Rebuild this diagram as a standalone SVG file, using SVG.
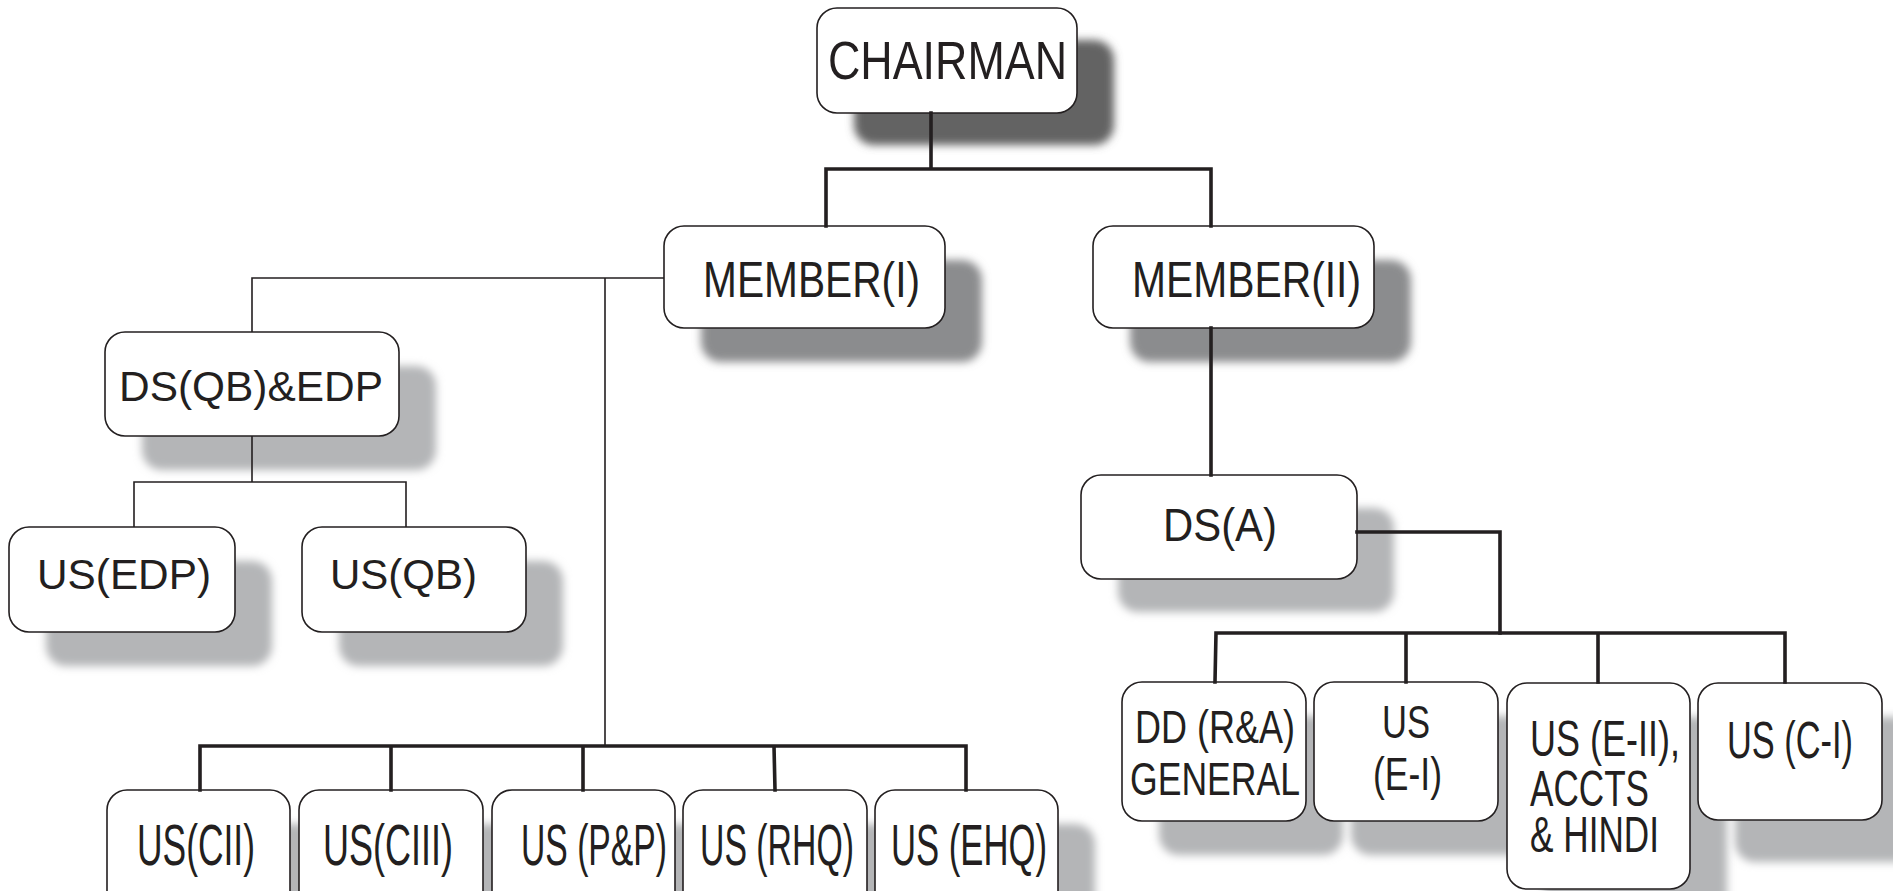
<svg xmlns="http://www.w3.org/2000/svg" width="1893" height="891" viewBox="0 0 1893 891">
<defs>
<filter id="blur" x="-20%" y="-20%" width="140%" height="140%"><feGaussianBlur stdDeviation="4"/></filter>
<style>
.box{fill:#fff;stroke:#231f20;stroke-width:1.6}
.sh{fill:#b4b5b7;filter:url(#blur)}
.sh2{fill:#8b8c8e;filter:url(#blur)}
.sh3{fill:#636363;filter:url(#blur)}
.t{font-family:"Liberation Sans",Arial,sans-serif;fill:#231f20;text-anchor:middle}
.ts{font-family:"Liberation Sans",Arial,sans-serif;fill:#231f20;text-anchor:start}
.thick{stroke:#231f20;stroke-width:3.6;fill:none;stroke-linecap:square}
.thin{stroke:#231f20;stroke-width:1.6;fill:none}
</style>
</defs>
<rect width="1893" height="891" fill="#fff"/>

<g id="chairman">
<rect class="sh3" x="854" y="40" width="260" height="105" rx="20"/>
<rect class="box" x="817" y="8" width="260" height="105" rx="20"/>
<text class="t" x="947.5" y="79" font-size="54" textLength="239" lengthAdjust="spacingAndGlyphs">CHAIRMAN</text>
</g>
<g id="member1">
<rect class="sh2" x="701" y="260" width="281" height="102" rx="20"/>
<rect class="box" x="664" y="226" width="281" height="102" rx="20"/>
<text class="t" x="811.5" y="297" font-size="50" textLength="217" lengthAdjust="spacingAndGlyphs">MEMBER(I)</text>
</g>
<g id="member2">
<rect class="sh2" x="1130" y="260" width="281" height="102" rx="20"/>
<rect class="box" x="1093" y="226" width="281" height="102" rx="20"/>
<text class="t" x="1246.5" y="297" font-size="50" textLength="229" lengthAdjust="spacingAndGlyphs">MEMBER(II)</text>
</g>
<g id="dsqb">
<rect class="sh" x="142" y="366" width="294" height="104" rx="20"/>
<rect class="box" x="105" y="332" width="294" height="104" rx="20"/>
<text class="t" x="251" y="401" font-size="42" textLength="264" lengthAdjust="spacingAndGlyphs">DS(QB)&amp;EDP</text>
</g>
<g id="usedp">
<rect class="sh" x="46" y="561" width="226" height="105" rx="20"/>
<rect class="box" x="9" y="527" width="226" height="105" rx="20"/>
<text class="t" x="124" y="589" font-size="42" textLength="174" lengthAdjust="spacingAndGlyphs">US(EDP)</text>
</g>
<g id="usqb">
<rect class="sh" x="339" y="561" width="224" height="105" rx="20"/>
<rect class="box" x="302" y="527" width="224" height="105" rx="20"/>
<text class="t" x="403.5" y="589" font-size="42" textLength="147" lengthAdjust="spacingAndGlyphs">US(QB)</text>
</g>
<g id="uscii">
<rect class="sh" x="144" y="824" width="183" height="140" rx="20"/>
<rect class="box" x="107" y="790" width="183" height="140" rx="20"/>
<text class="t" x="196" y="865" font-size="57" textLength="118" lengthAdjust="spacingAndGlyphs">US(CII)</text>
</g>
<g id="usciii">
<rect class="sh" x="336" y="824" width="184" height="140" rx="20"/>
<rect class="box" x="299" y="790" width="184" height="140" rx="20"/>
<text class="t" x="388" y="865" font-size="57" textLength="130" lengthAdjust="spacingAndGlyphs">US(CIII)</text>
</g>
<g id="uspp">
<rect class="sh" x="529" y="824" width="183" height="140" rx="20"/>
<rect class="box" x="492" y="790" width="183" height="140" rx="20"/>
<text class="t" x="594" y="865" font-size="57" textLength="146" lengthAdjust="spacingAndGlyphs">US (P&amp;P)</text>
</g>
<g id="usrhq">
<rect class="sh" x="720" y="824" width="184" height="140" rx="20"/>
<rect class="box" x="683" y="790" width="184" height="140" rx="20"/>
<text class="t" x="777" y="865" font-size="57" textLength="154" lengthAdjust="spacingAndGlyphs">US (RHQ)</text>
</g>
<g id="usehq">
<rect class="sh" x="912" y="824" width="183" height="140" rx="20"/>
<rect class="box" x="875" y="790" width="183" height="140" rx="20"/>
<text class="t" x="969" y="865" font-size="57" textLength="156" lengthAdjust="spacingAndGlyphs">US (EHQ)</text>
</g>
<g id="dsa">
<rect class="sh" x="1118" y="508" width="276" height="104" rx="20"/>
<rect class="box" x="1081" y="475" width="276" height="104" rx="20"/>
<text class="t" x="1220" y="541" font-size="46" textLength="114" lengthAdjust="spacingAndGlyphs">DS(A)</text>
</g>
<g id="ddra">
<rect class="sh" x="1159" y="716" width="184" height="139" rx="20"/>
<rect class="box" x="1122" y="682" width="184" height="139" rx="20"/>
<text class="t" x="1215" y="743" font-size="47" textLength="160" lengthAdjust="spacingAndGlyphs">DD (R&amp;A)</text>
<text class="t" x="1215" y="795" font-size="47" textLength="170" lengthAdjust="spacingAndGlyphs">GENERAL</text>
</g>
<g id="usei">
<rect class="sh" x="1351" y="716" width="184" height="139" rx="20"/>
<rect class="box" x="1314" y="682" width="184" height="139" rx="20"/>
<text class="t" x="1406" y="738" font-size="47" textLength="48" lengthAdjust="spacingAndGlyphs">US</text>
<text class="t" x="1407.5" y="790" font-size="47" textLength="69" lengthAdjust="spacingAndGlyphs">(E-I)</text>
</g>
<g id="useii">
<rect class="sh" x="1544" y="717" width="183" height="207" rx="20"/>
<rect class="box" x="1507" y="683" width="183" height="206" rx="20"/>
<text class="ts" x="1530" y="756" font-size="50" textLength="150" lengthAdjust="spacingAndGlyphs">US (E-II),</text>
<text class="ts" x="1530" y="806" font-size="50" textLength="119" lengthAdjust="spacingAndGlyphs">ACCTS</text>
<text class="ts" x="1530" y="852" font-size="50" textLength="129" lengthAdjust="spacingAndGlyphs">&amp; HINDI</text>
</g>
<g id="usci">
<rect class="sh" x="1735" y="717" width="184" height="145" rx="20"/>
<rect class="box" x="1698" y="683" width="184" height="137" rx="20"/>
<text class="t" x="1790" y="758" font-size="52" textLength="126" lengthAdjust="spacingAndGlyphs">US (C-I)</text>
</g>

<g id="connectors">
<path class="thick" d="M931 113V169M826 226V169H1211V226"/>
<path class="thick" d="M1211 328V475"/>
<path class="thick" d="M1357 532H1500V633"/>
<path class="thick" d="M1215 682L1216 633H1785V682M1406 633V682M1598 633V682"/>
<path class="thin" d="M664 278H252V332M605 278V746"/>
<path class="thin" d="M252 436V482M134 527V482H406V527"/>
<path class="thick" d="M200 790V746H966V790M391 746V790M583 746V790M774 746L775 790"/>
</g>
</svg>
